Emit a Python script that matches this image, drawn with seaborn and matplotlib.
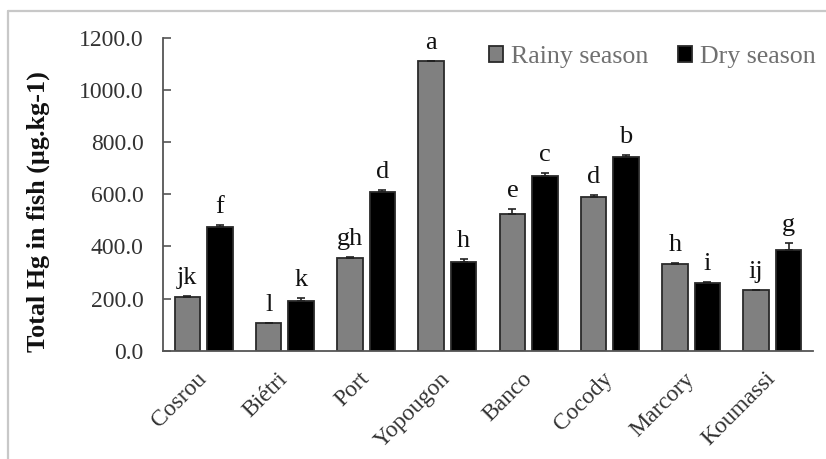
import matplotlib
matplotlib.use("Agg")
import matplotlib.pyplot as plt
from matplotlib.lines import Line2D
import seaborn as sns
import pandas as pd
import numpy as np

sites = ["Cosrou", "Biétri", "Port", "Yopougon", "Banco", "Cocody", "Marcory", "Koumassi"]
rainy = [207, 106, 357, 1112, 523, 591, 334, 232]
dry = [476, 191, 608, 342, 669, 742, 259, 387]
rainy_err = [3, 2, 4, 0, 20, 8, 4, 0]
dry_err = [8, 12, 10, 10, 14, 10, 6, 28]
rainy_letters = ["jk", "l", "gh", "a", "e", "d", "h", "ij"]
dry_letters = ["f", "k", "d", "h", "c", "b", "i", "g"]
seasons = ["Rainy season", "Dry season"]
yticks = [0, 200, 400, 600, 800, 1000, 1200]

df = pd.DataFrame({
    "site": sites * 2,
    "value": rainy + dry,
    "season": [seasons[0]] * len(sites) + [seasons[1]] * len(sites),
})

sns.set_style("white")
plt.rcParams["font.family"] = ["Liberation Serif", "DejaVu Serif"]

fig = plt.figure(figsize=(8.26, 4.59), dpi=100)
ax = fig.add_axes([163 / 826, 1 - 350.7 / 459, (813 - 163) / 826, (350.7 - 38) / 459])

sns.barplot(data=df, x="site", y="value", hue="season", order=sites, hue_order=seasons,
            palette=["#808080", "#000000"], edgecolor="#2a2a2a", linewidth=1.3,
            gap=0.22, errorbar=None, ax=ax, legend=True)

errs = [rainy_err, dry_err]
vals = [rainy, dry]
letters = [rainy_letters, dry_letters]
bar_conts = list(ax.containers)
for k, cont in enumerate(bar_conts):
    xs = [p.get_x() + p.get_width() / 2 for p in cont.patches]
    ax.errorbar(xs, vals[k], yerr=[np.zeros(len(xs)), errs[k]], fmt="none",
                ecolor="#222222", elinewidth=1.2, capsize=3, capthick=1.2, zorder=3)
    for x, v, e, t in zip(xs, vals[k], errs[k], letters[k]):
        ax.annotate(t, (x, v + e), xytext=(0, 7), textcoords="offset pixels",
                    ha="center", va="bottom", fontsize=19, color="#111111")

ax.set_xlim(-0.5, len(sites) - 0.5)
ax.set_ylim(0, 1200)
ax.set_yticks(yticks)
ax.set_yticklabels([f"{v:.1f}" for v in yticks])
ax.set_xticks(range(len(sites)))
ax.set_xticklabels(sites, rotation=45, ha="right", va="center", rotation_mode="anchor")
ax.set_xlabel("")
ax.set_ylabel("Total Hg in fish (µg.kg-1)", fontsize=18.8, fontweight="bold", color="#111111")
ax.yaxis.set_label_coords((50 - 163) / 650, (350.7 - 212) / 312.7)
ax.tick_params(axis="y", direction="in", length=6, width=1.2, color="#555555",
               labelsize=17, labelcolor="#333333", pad=14, left=True)
ax.tick_params(axis="x", length=0, labelsize=17, labelcolor="#333333", pad=18)

for s in ["top", "right"]:
    ax.spines[s].set_visible(False)
for s in ["left", "bottom"]:
    ax.spines[s].set_color("#555555")
    ax.spines[s].set_linewidth(1.3)

ax.get_legend().remove()
handles = [plt.Rectangle((0, 0), 1, 1, facecolor=c, edgecolor="#2a2a2a", linewidth=1.3)
           for c in ["#808080", "#000000"]]
fig.legend(handles, seasons, loc="center right", bbox_to_anchor=(1.0, 1 - 57 / 459),
           ncol=2, frameon=False, fontsize=18.6, labelcolor="#707070",
           handlelength=0.55, handleheight=0.55, handletextpad=0.3, columnspacing=1.15,
           borderaxespad=0)

fig.add_artist(Line2D([8 / 826, 1], [1 - 11 / 459, 1 - 11 / 459], color="#c8c8c8", linewidth=1.6))
fig.add_artist(Line2D([8 / 826, 8 / 826], [0, 1 - 11 / 459], color="#c8c8c8", linewidth=1.6))

fig.savefig("out.png", dpi=100)
